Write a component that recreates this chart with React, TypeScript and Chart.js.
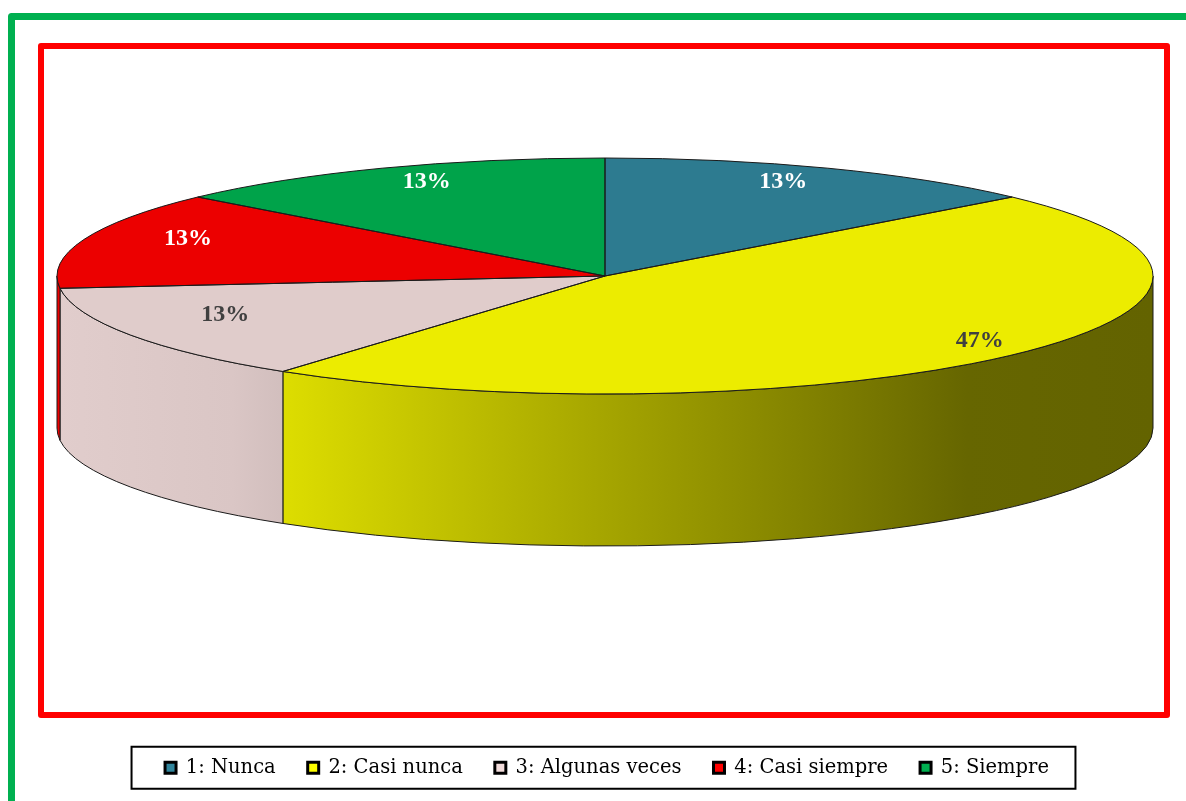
import React, { useEffect, useRef } from 'react';
import { Chart, registerables } from 'chart.js';

Chart.register(...registerables);

const categories = ['1: Nunca', '2: Casi nunca', '3: Algunas veces', '4: Casi siempre', '5: Siempre'];
const counts = [2, 7, 2, 2, 2];
const percentLabels = ['13%', '47%', '13%', '13%', '13%'];
const baseColors = ['#31859C', '#FFFF00', '#F2DCDB', '#FF0000', '#00B050'];
const labelColors = ['#FFFFFF', '#404040', '#404040', '#FFFFFF', '#FFFFFF'];

const PIE = { cx: 605, cy: 276, rx: 548, ry: 118, depth: 152 };

function hexToRgb(hex: string) {
  const h = hex.replace('#', '');
  return [parseInt(h.slice(0, 2), 16), parseInt(h.slice(2, 4), 16), parseInt(h.slice(4, 6), 16)];
}
function shade(hex: string, m: number) {
  const [r, g, b] = hexToRgb(hex);
  const f = (v: number) => Math.max(0, Math.min(255, Math.round(v * m)));
  return `rgb(${f(r)},${f(g)},${f(b)})`;
}

const faceColors = baseColors.map((c) => shade(c, 0.925));

const framePlugin = {
  id: 'frames',
  beforeDraw(chart: any) {
    const ctx = chart.ctx;
    ctx.save();
    ctx.lineJoin = 'round';
    ctx.strokeStyle = '#00B050';
    ctx.lineWidth = 7;
    ctx.strokeRect(11.5, 16.5, 1400, 1000);
    ctx.strokeStyle = '#FF0000';
    ctx.lineWidth = 6;
    ctx.strokeRect(41, 46, 1126, 669);
    ctx.restore();
  },
  afterDraw(chart: any) {
    const boxes = chart.legend && chart.legend.legendHitBoxes;
    if (!boxes || !boxes.length) return;
    const ctx = chart.ctx;
    let left = Infinity, right = -Infinity;
    boxes.forEach((h: any) => {
      left = Math.min(left, h.left);
      right = Math.max(right, h.left + h.width);
    });
    const midY = boxes[0].top + boxes[0].height / 2;
    ctx.save();
    ctx.strokeStyle = '#000';
    ctx.lineWidth = 2;
    ctx.strokeRect(left - 33.5, midY - 21, right - left + 60, 42);
    ctx.restore();
  },
};

const pie3dPlugin = {
  id: 'pie3d',
  beforeDatasetsDraw(chart: any) {
    const ctx = chart.ctx;
    const meta = chart.getDatasetMeta(0);
    const { cx, cy, rx, ry, depth } = PIE;
    meta.data.forEach((arc: any, i: number) => {
      const a = Math.max(arc.startAngle, 0);
      const b = Math.min(arc.endAngle, Math.PI);
      if (b <= a) return;
      const g = ctx.createLinearGradient(cx - rx, 0, cx + rx, 0);
      const base = baseColors[i];
      g.addColorStop(0, shade(base, 0.93));
      g.addColorStop(0.16, shade(base, 0.9));
      g.addColorStop(0.83, shade(base, 0.4));
      g.addColorStop(1, shade(base, 0.39));
      ctx.save();
      ctx.beginPath();
      ctx.ellipse(cx, cy, rx, ry, 0, a, b, false);
      ctx.ellipse(cx, cy + depth, rx, ry, 0, b, a, true);
      ctx.closePath();
      ctx.fillStyle = g;
      ctx.fill();
      ctx.strokeStyle = '#1a1a1a';
      ctx.lineWidth = 1;
      ctx.stroke();
      ctx.restore();
    });
    const arc0 = meta.data[0];
    const R = arc0.outerRadius;
    ctx.save();
    ctx.translate(cx, cy);
    ctx.scale(rx / R, ry / R);
    ctx.translate(-arc0.x, -arc0.y);
  },
  afterDatasetsDraw(chart: any) {
    const ctx = chart.ctx;
    ctx.restore();
    const meta = chart.getDatasetMeta(0);
    const { cx, cy, rx, ry } = PIE;
    ctx.save();
    ctx.strokeStyle = '#1a1a1a';
    ctx.lineWidth = 1;
    meta.data.forEach((arc: any) => {
      ctx.beginPath();
      ctx.moveTo(cx, cy);
      ctx.ellipse(cx, cy, rx, ry, 0, arc.startAngle, arc.endAngle, false);
      ctx.closePath();
      ctx.stroke();
    });
    ctx.font = 'bold 24px "Liberation Serif"';
    ctx.textAlign = 'center';
    ctx.textBaseline = 'middle';
    meta.data.forEach((arc: any, i: number) => {
      const mid = (arc.startAngle + arc.endAngle) / 2;
      const share = (arc.endAngle - arc.startAngle) / (2 * Math.PI);
      const f = share > 0.3 ? 0.92 : 0.8;
      const x = cx + f * rx * Math.cos(mid);
      const y = cy - 8 + f * ry * Math.sin(mid);
      ctx.fillStyle = labelColors[i];
      ctx.fillText(percentLabels[i], x, y);
    });
    ctx.restore();
  },
};

export default function App() {
  const canvasRef = useRef<HTMLCanvasElement | null>(null);

  useEffect(() => {
    if (!canvasRef.current) return;
    const chart = new Chart(canvasRef.current, {
      type: 'pie',
      data: {
        labels: categories,
        datasets: [
          {
            data: counts,
            backgroundColor: faceColors,
            borderWidth: 0,
            clip: false as any,
          },
        ],
      },
      options: {
        animation: false,
        responsive: true,
        maintainAspectRatio: false,
        events: [],
        layout: { padding: { top: 0, bottom: 52.5, left: 28, right: 0 } },
        plugins: {
          tooltip: { enabled: false },
          legend: {
            position: 'bottom',
            labels: {
              font: { family: 'DejaVu Serif', size: 19.5 },
              color: '#000',
              boxWidth: 11,
              boxHeight: 11,
              padding: 32,
              useBorderRadius: true,
              borderRadius: 2,
              generateLabels: () =>
                categories.map((c, i) => ({
                  text: c,
                  fillStyle: baseColors[i],
                  strokeStyle: '#000',
                  lineWidth: 3,
                  hidden: false,
                  index: i,
                  datasetIndex: 0,
                })),
            },
          },
        },
      },
      plugins: [framePlugin, pie3dPlugin],
    });
    return () => chart.destroy();
  }, []);

  return (
    <div style={{ position: 'fixed', left: 0, top: 0, width: 1186, height: 801, overflow: 'hidden', background: '#fff' }}>
      <div style={{ position: 'relative', width: 1186, height: 840 }}>
        <canvas ref={canvasRef} />
      </div>
    </div>
  );
}
